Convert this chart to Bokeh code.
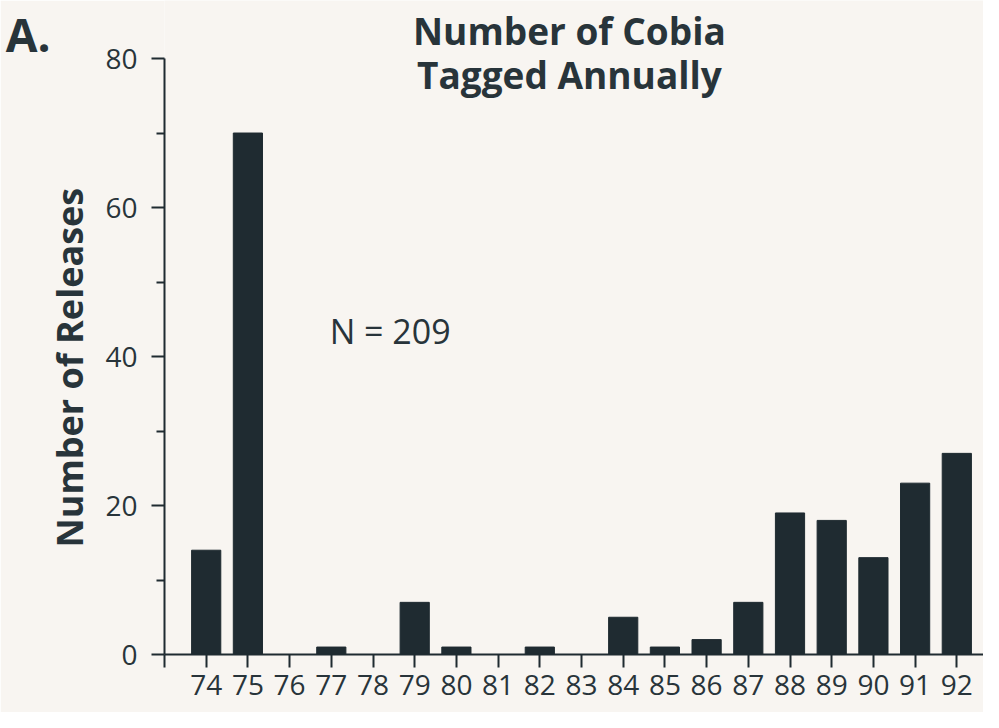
from bokeh.plotting import figure
from bokeh.models import (ColumnDataSource, Label, FixedTicker, Range1d, LinearAxis, Title)
from bokeh.embed import file_html
from bokeh.resources import INLINE

years = [74, 75, 76, 77, 78, 79, 80, 81, 82, 83, 84, 85, 86, 87, 88, 89, 90, 91, 92]
year_labels = ["74", "75", "76", "77", "78", "79", "80", "81", "82", "83",
               "84", "85", "86", "87", "88", "89", "90", "91", "92"]
releases = [14, 70, 0, 1, 0, 7, 1, 0, 1, 0, 5, 1, 2, 7, 19, 18, 13, 23, 27]
y_ticks = [0, 20, 40, 60, 80]
y_minor = [10, 30, 50, 70]
title_lines = ["Number of Cobia", "Tagged Annually"]
y_title = "Number of Releases"
panel_tag = "A."
n_note = "N = 209"

BG = "#f8f5f1"
INK = "#1f2b31"
TXT = "#28343a"
FONT = "Open Sans"

p = figure(width=983, height=712, output_backend="svg", toolbar_location=None,
           x_range=Range1d(73, 92.64), y_range=Range1d(0, 87.79),
           min_border_left=164, min_border_top=0, min_border_bottom=58,
           min_border_right=0)
p.background_fill_color = BG
p.border_fill_color = BG
p.outline_line_color = None
p.grid.grid_line_color = None

src = ColumnDataSource(dict(x=years, top=releases))
p.vbar(x="x", top="top", width=0.7, bottom=0, source=src, fill_color=INK, line_color=INK)

# x axis
xa = p.xaxis[0]
xa.ticker = FixedTicker(ticks=[73] + years + [93])
xa.major_label_overrides = {y: l for y, l in zip(years, year_labels)} | {73: "", 93: ""}
xa.major_tick_out = 13
xa.major_tick_in = 0
xa.minor_tick_out = 0
xa.axis_line_width = 2
xa.axis_line_color = INK
xa.major_tick_line_width = 2
xa.major_tick_line_color = INK
xa.major_label_text_font = FONT
xa.major_label_text_font_size = "28px"
xa.major_label_text_color = TXT
xa.major_label_standoff = 7

# y axis
ya = p.yaxis[0]
ya.ticker = FixedTicker(ticks=y_ticks, minor_ticks=y_minor)
ya.bounds = (0, 80)
ya.major_tick_out = 13
ya.major_tick_in = 0
ya.minor_tick_out = 8
ya.minor_tick_in = 0
ya.axis_line_width = 2
ya.axis_line_color = INK
ya.major_tick_line_width = 2
ya.minor_tick_line_width = 2
ya.major_tick_line_color = INK
ya.minor_tick_line_color = INK
ya.major_label_text_font = FONT
ya.major_label_text_font_size = "28px"
ya.major_label_text_color = TXT
ya.major_label_standoff = 14

# y-axis title, aligned to the 0..80 span of the axis
ylab = Title(text=y_title, align="left", offset=107, vertical_align="middle",
             text_font=FONT, text_font_size="36px", text_font_style="bold",
             text_color=TXT, standoff=15)
p.add_layout(ylab, "left")

# panel tag "A." as an outer left axis label
tag_axis = LinearAxis(ticker=FixedTicker(ticks=[84]), major_label_overrides={84: panel_tag})
tag_axis.axis_line_color = None
tag_axis.major_tick_line_color = None
tag_axis.minor_tick_line_color = None
tag_axis.major_tick_out = 0
tag_axis.major_tick_in = 0
tag_axis.major_label_standoff = -14
tag_axis.major_label_text_font = FONT
tag_axis.major_label_text_font_style = "bold"
tag_axis.major_label_text_font_size = "46px"
tag_axis.major_label_text_color = TXT
p.add_layout(tag_axis, "left")

# annotations
p.add_layout(Label(x=82.71, y=80.4, text=title_lines[0], text_align="center",
                   text_baseline="bottom", text_font=FONT, text_font_style="bold",
                   text_font_size="37px", text_color=TXT))
p.add_layout(Label(x=82.71, y=74.5, text=title_lines[1], text_align="center",
                   text_baseline="bottom", text_font=FONT, text_font_style="bold",
                   text_font_size="37px", text_color=TXT))
p.add_layout(Label(x=76.96, y=40.4, text=n_note, text_align="left",
                   text_baseline="bottom", text_font=FONT,
                   text_font_size="34px", text_color=TXT))

open("out.html", "w").write(file_html(p, INLINE))
